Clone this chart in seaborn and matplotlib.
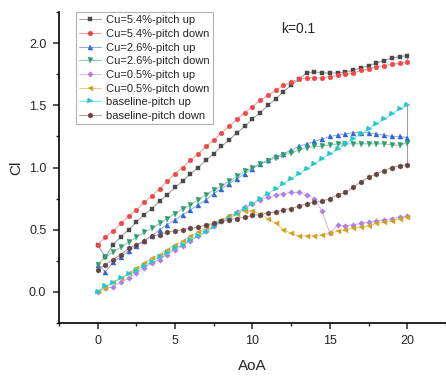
import numpy as np
import pandas as pd
import matplotlib
matplotlib.use("Agg")
import matplotlib.pyplot as plt
import matplotlib.colors as mcolors
import seaborn as sns
from matplotlib.ticker import MultipleLocator

aoa = [i * 0.5 for i in range(41)]

cu54_up = [0.38, 0.28, 0.38, 0.44, 0.50, 0.56, 0.62, 0.67, 0.73, 0.78, 0.84, 0.89, 0.95, 1.00, 1.06, 1.11,
           1.17, 1.22, 1.28, 1.33, 1.39, 1.44, 1.50, 1.55, 1.61, 1.66, 1.71, 1.76, 1.77, 1.76, 1.76, 1.76,
           1.77, 1.78, 1.80, 1.82, 1.84, 1.86, 1.88, 1.89, 1.90]
cu54_down = [0.38, 0.44, 0.49, 0.55, 0.61, 0.66, 0.72, 0.77, 0.83, 0.89, 0.95, 1.00, 1.06, 1.11, 1.17, 1.22,
             1.28, 1.33, 1.39, 1.44, 1.49, 1.54, 1.58, 1.62, 1.66, 1.69, 1.71, 1.72, 1.72, 1.72, 1.73, 1.74,
             1.75, 1.76, 1.78, 1.79, 1.81, 1.82, 1.83, 1.84, 1.85]
cu26_up = [0.22, 0.16, 0.24, 0.28, 0.33, 0.37, 0.41, 0.45, 0.50, 0.54, 0.58, 0.62, 0.66, 0.70, 0.74, 0.79,
           0.83, 0.87, 0.91, 0.95, 0.99, 1.03, 1.06, 1.09, 1.11, 1.14, 1.17, 1.19, 1.21, 1.23, 1.25, 1.26,
           1.27, 1.28, 1.28, 1.28, 1.27, 1.26, 1.25, 1.25, 1.24]
cu26_down = [0.22, 0.28, 0.32, 0.36, 0.40, 0.44, 0.48, 0.51, 0.55, 0.59, 0.63, 0.67, 0.70, 0.74, 0.78, 0.82,
             0.85, 0.89, 0.93, 0.97, 1.00, 1.03, 1.05, 1.08, 1.10, 1.12, 1.14, 1.16, 1.17, 1.17, 1.18, 1.19,
             1.19, 1.19, 1.19, 1.19, 1.19, 1.19, 1.18, 1.18, 1.20]
cu05_up = [0.00, 0.03, 0.04, 0.08, 0.11, 0.15, 0.19, 0.23, 0.26, 0.30, 0.34, 0.37, 0.41, 0.45, 0.49, 0.53,
           0.57, 0.61, 0.64, 0.68, 0.71, 0.74, 0.76, 0.78, 0.79, 0.80, 0.80, 0.78, 0.75, 0.65, 0.47, 0.54,
           0.53, 0.54, 0.55, 0.56, 0.57, 0.58, 0.59, 0.60, 0.61]
cu05_down = [0.01, 0.03, 0.08, 0.11, 0.15, 0.19, 0.23, 0.27, 0.30, 0.34, 0.38, 0.41, 0.45, 0.48, 0.52, 0.55,
             0.58, 0.61, 0.63, 0.65, 0.65, 0.63, 0.59, 0.55, 0.50, 0.47, 0.45, 0.45, 0.45, 0.46, 0.47, 0.49,
             0.50, 0.51, 0.52, 0.53, 0.55, 0.56, 0.57, 0.59, 0.60]
base_up = [0.00, 0.05, 0.07, 0.11, 0.14, 0.17, 0.21, 0.24, 0.28, 0.31, 0.35, 0.38, 0.42, 0.45, 0.48, 0.52,
           0.56, 0.59, 0.63, 0.67, 0.71, 0.75, 0.79, 0.83, 0.87, 0.91, 0.95, 0.99, 1.03, 1.07, 1.11, 1.15,
           1.19, 1.23, 1.27, 1.31, 1.35, 1.39, 1.43, 1.47, 1.50]
base_down = [0.18, 0.22, 0.26, 0.30, 0.35, 0.38, 0.41, 0.45, 0.46, 0.48, 0.49, 0.50, 0.51, 0.52, 0.54, 0.55,
             0.57, 0.58, 0.59, 0.60, 0.615, 0.62, 0.635, 0.64, 0.66, 0.67, 0.69, 0.71, 0.72, 0.73, 0.75, 0.78,
             0.80, 0.84, 0.885, 0.92, 0.95, 0.975, 1.00, 1.015, 1.02]

labels = ["Cu=5.4%-pitch up", "Cu=5.4%-pitch down", "Cu=2.6%-pitch up", "Cu=2.6%-pitch down",
          "Cu=0.5%-pitch up", "Cu=0.5%-pitch down", "baseline-pitch up", "baseline-pitch down"]
series = [cu54_up, cu54_down, cu26_up, cu26_down, cu05_up, cu05_down, base_up, base_down]
colors = ["#4a4a4a", "#f04848", "#2f66d6", "#2f9e6c", "#b07ee2", "#d2a21c", "#22c8c8", "#6a4444"]
markers = ["s", "o", "^", "v", "D", "<", ">", "h"]
msizes = [3.0, 3.4, 3.6, 3.6, 2.8, 3.6, 3.6, 3.8]


def lighten(c, f=0.45):
    r, g, b = mcolors.to_rgb(c)
    return (r + (1 - r) * f, g + (1 - g) * f, b + (1 - b) * f)


sns.set_style("ticks")
plt.rcParams['font.family'] = ['Liberation Sans', 'DejaVu Sans']

fig = plt.figure(figsize=(4.46, 3.76), dpi=100)
ax = fig.add_axes([0.132, 0.141, 0.868, 0.827])

for i, (lab, ys) in enumerate(zip(labels, series)):
    df = pd.DataFrame({"AoA": aoa, "Cl": ys})
    sns.lineplot(data=df, x="AoA", y="Cl", ax=ax, color=lighten(colors[i]), marker=markers[i],
                 markerfacecolor=colors[i], markeredgecolor=colors[i],
                 markersize=msizes[i], markeredgewidth=0.3, linewidth=0.7, label=lab, zorder=3 + i)
    if i % 2 == 1:
        up = series[i - 1]
        ax.plot([aoa[-1], aoa[-1]], [up[-1], ys[-1]], color="#a0a0a0", linewidth=0.8, zorder=2)

ax.set_xlim(-2.5, 22.5)
ax.set_ylim(-0.25, 2.25)
ax.xaxis.set_major_locator(MultipleLocator(5))
ax.xaxis.set_minor_locator(MultipleLocator(2.5))
ax.yaxis.set_major_locator(MultipleLocator(0.5))
ax.yaxis.set_minor_locator(MultipleLocator(0.25))
ax.yaxis.set_major_formatter(matplotlib.ticker.FormatStrFormatter('%.1f'))
ax.tick_params(which='major', direction='out', length=4, width=1.1, labelsize=9, pad=5)
ax.tick_params(which='minor', direction='out', length=2.5, width=1.0)
for s in ["top", "right"]:
    ax.spines[s].set_visible(False)
for s in ["left", "bottom"]:
    ax.spines[s].set_linewidth(1.2)
    ax.spines[s].set_color("black")

ax.set_xlabel("AoA", fontsize=11, labelpad=8)
ax.set_ylabel("Cl", fontsize=11)
ax.text(12.97, 2.11, "k=0.1", fontsize=10, ha="center", va="center")

leg = ax.legend(loc="upper left", bbox_to_anchor=(0.043, 1.0), fontsize=8.0, frameon=True,
                fancybox=False, edgecolor="#a0a0a0", handlelength=2.0, handletextpad=0.45,
                labelspacing=0.33, borderpad=0.3, borderaxespad=0)
leg.get_frame().set_linewidth(0.8)

fig.savefig("out.png", dpi=100)
